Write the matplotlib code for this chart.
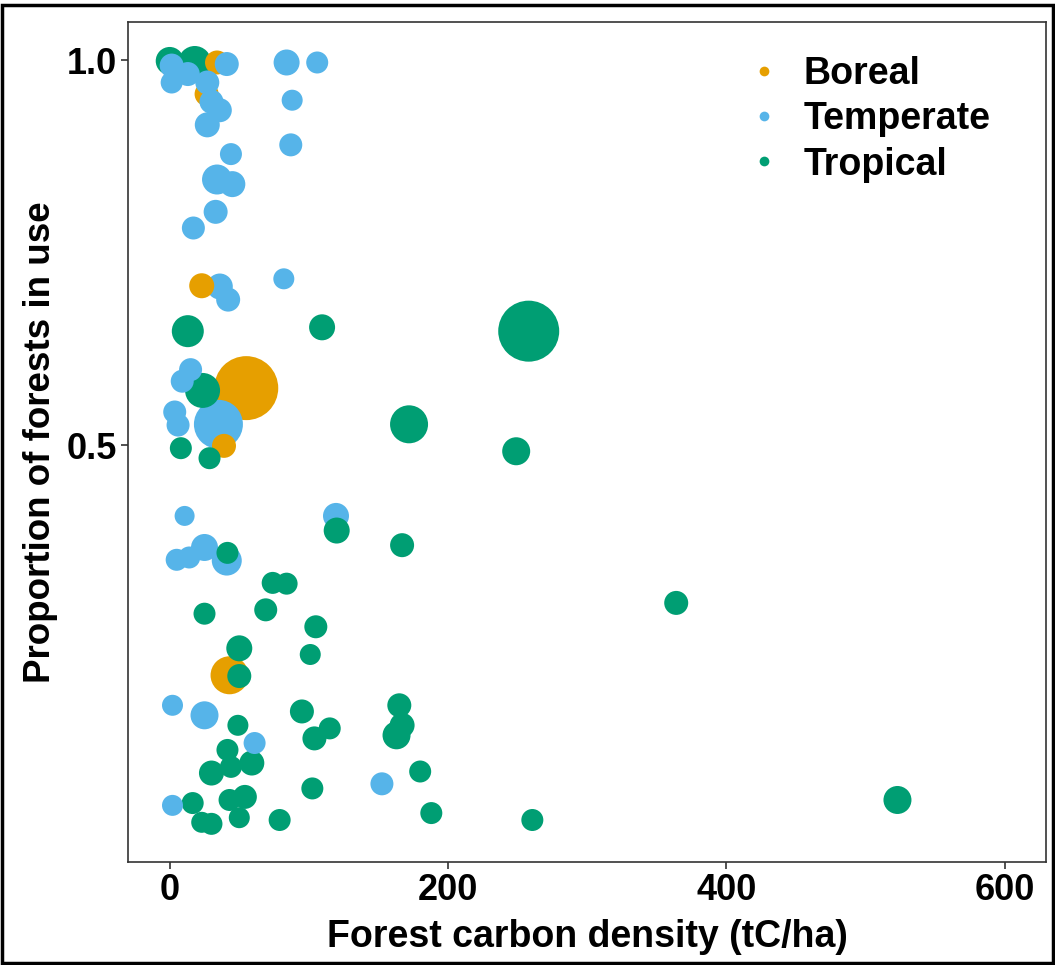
import pandas as pd
import matplotlib.pyplot as plt
from matplotlib.lines import Line2D
from matplotlib.patches import Rectangle

plt.rcParams['font.family'] = ['Liberation Sans', 'DejaVu Sans']
plt.rcParams['font.weight'] = 'bold'

# values: carbon density, share of forests in use, bubble size
boreal_x = [34, 26.5, 23, 55, 39, 43]
boreal_y = [0.997, 0.956, 0.707, 0.574, 0.499, 0.201]
boreal_size = [24, 24, 25, 64, 24, 38]

temperate_x = [1.4, 1.4, 13, 27, 41, 30, 36, 27, 84, 106, 88, 87, 44, 34, 45, 33, 17,
               36, 42, 82, 15, 9, 3.6, 6, 35, 10.7, 5, 14, 25, 41, 119.5, 2, 25, 61,
               152.5, 2]
temperate_y = [0.993, 0.971, 0.982, 0.971, 0.995, 0.946, 0.935, 0.916, 0.997, 0.997,
               0.948, 0.89, 0.878, 0.845, 0.839, 0.803, 0.782, 0.706, 0.689, 0.716,
               0.598, 0.583, 0.543, 0.526, 0.527, 0.408, 0.351, 0.354, 0.367, 0.35,
               0.408, 0.162, 0.149, 0.113, 0.06, 0.032]
temperate_size = [24, 22, 24, 24, 24, 24, 24, 25, 26, 22, 21, 23, 22, 30, 26, 24, 23,
                  26, 24, 21, 23, 23, 23, 23, 49, 20, 22, 22, 27, 30, 26, 21, 28, 22,
                  23, 21]

tropical_x = [0, 18, 13, 109.5, 258, 23.6, 172, 249, 8, 28.6, 41.5, 120, 167, 74, 84,
              25, 69, 364, 105, 50, 101, 50, 49, 95, 104, 115, 165, 167, 163, 41.5,
              30, 44, 59, 180, 102.5, 16.5, 23, 30, 43, 54, 50, 79, 188, 260.6, 523]
tropical_y = [0.999, 0.997, 0.648, 0.653, 0.648, 0.571, 0.527, 0.492, 0.496, 0.483,
              0.36, 0.389, 0.37, 0.321, 0.32, 0.281, 0.286, 0.295, 0.264, 0.236,
              0.228, 0.2, 0.136, 0.154, 0.119, 0.132, 0.162, 0.136, 0.123, 0.104,
              0.074, 0.082, 0.087, 0.076, 0.054, 0.035, 0.01, 0.008, 0.039, 0.043,
              0.016, 0.013, 0.022, 0.013, 0.039]
tropical_size = [28, 33, 32, 26, 61, 35, 38, 28, 22, 22, 22, 26, 24, 22, 22, 22, 23,
                 24, 23, 26, 21, 24, 21, 24, 24, 22, 24, 25, 28, 22, 25, 22, 25, 22,
                 22, 22, 21, 22, 22, 24, 21, 22, 22, 22, 28]

colors = {"Boreal": "#E69F00", "Temperate": "#56B4E9", "Tropical": "#009E73"}

df = pd.concat([
    pd.DataFrame({"x": boreal_x, "y": boreal_y, "size": boreal_size, "zone": "Boreal"}),
    pd.DataFrame({"x": temperate_x, "y": temperate_y, "size": temperate_size, "zone": "Temperate"}),
    pd.DataFrame({"x": tropical_x, "y": tropical_y, "size": tropical_size, "zone": "Tropical"}),
])
# big bubbles underneath
df = df.sort_values("size", ascending=False, kind="stable")

fig = plt.figure(figsize=(10.55, 9.65), dpi=100)
ax = fig.add_axes([0.1213, 0.1067, 0.8705, 0.8705])

ax.scatter(df["x"], df["y"], s=(df["size"] * 0.72) ** 2,
           c=df["zone"].map(colors), linewidths=0)

ax.set_xlim(-30, 630)
ax.set_ylim(-0.0416, 1.0496)
ax.set_xticks([0, 200, 400, 600])
ax.set_yticks([0.5, 1.0])
ax.set_yticklabels(["0.5", "1.0"])
ax.tick_params(labelsize=26, length=5, width=1.2, color="#333333", pad=3)
for lab in ax.get_xticklabels() + ax.get_yticklabels():
    lab.set_fontweight("bold")
for sp in ax.spines.values():
    sp.set_color("#333333")
    sp.set_linewidth(1.2)

ax.set_xlabel("Forest carbon density (tC/ha)", fontsize=27, fontweight="bold", labelpad=8)
ax.set_ylabel("Proportion of forests in use", fontsize=26.5, fontweight="bold", labelpad=6)

handles = [Line2D([], [], marker="o", linestyle="", markersize=7, color=colors[k],
                  markeredgewidth=0) for k in colors]
ax.legend(handles, list(colors), loc="upper right", bbox_to_anchor=(0.976, 1.0),
          frameon=False, prop={"size": 27, "weight": "bold"},
          handletextpad=0.45, labelspacing=0.25, handlelength=1.2)

fig.patches.append(Rectangle((0.002, 0.002), 0.996, 0.993, transform=fig.transFigure,
                             fill=False, edgecolor="black", linewidth=2.5))

plt.savefig("out.png", dpi=100)
